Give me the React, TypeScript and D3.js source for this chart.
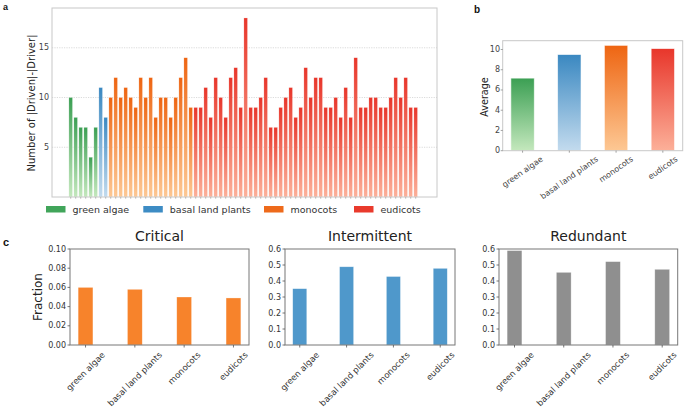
import React from "react";
import * as d3 from "d3";

// ---------- data ----------
const lineages = ["green algae", "basal land plants", "monocots", "eudicots"];
const groupSizes = [6, 2, 17, 45];
const driverDiff = [
  10, 8, 7, 7, 4, 7,
  11, 8,
  10, 12, 10, 11, 10, 9, 12, 10, 12, 8, 10, 10, 8, 10, 12, 14, 9,
  9, 9, 11, 8, 12, 10, 8, 12, 13, 9,
  18, 9, 9, 10, 12, 7, 7, 9, 10, 11,
  8, 9, 13, 10, 12, 12, 9, 9, 10, 8,
  11, 8, 14, 9, 9, 10, 10, 9, 9, 10,
  12, 10, 12, 9, 9,
];
const averages = [7.17, 9.5, 10.41, 10.09];
const criticalFrac = [0.06, 0.058, 0.05, 0.049];
const intermittentFrac = [0.352, 0.489, 0.428, 0.479];
const redundantFrac = [0.59, 0.454, 0.521, 0.473];
const aTicks = [5, 10, 15];
const bTicks = [0, 2, 4, 6, 8, 10];
const critTicks = [0, 0.02, 0.04, 0.06, 0.08, 0.1];
const fracTicks = [0, 0.1, 0.2, 0.3, 0.4, 0.5, 0.6];

const topColors = ["#3b9f53", "#3a88c1", "#ee6512", "#e8362b"];
const botColors = ["#c4e8bd", "#c3dbee", "#fdc894", "#fcb099"];
const legendColors = ["#41a55a", "#3d8cc4", "#ee6a1b", "#e93a2c"];

const FONT = '"DejaVu Sans", sans-serif';

let _ctx: CanvasRenderingContext2D | null = null;
function measure(text: string, size: number) {
  if (!_ctx) _ctx = document.createElement("canvas").getContext("2d");
  if (!_ctx) return text.length * size * 0.6;
  _ctx.font = `${size}px "DejaVu Sans"`;
  return _ctx.measureText(text).width;
}

function RotLabel({ x, yTop, text, size, angle, fill }: any) {
  const w = measure(text, size);
  const h = size * 1.1;
  const r = (angle * Math.PI) / 180;
  const bh = w * Math.sin(r) + h * Math.cos(r);
  const cy = yTop + bh / 2;
  return (
    <text
      transform={`translate(${x},${cy}) rotate(${-angle})`}
      textAnchor="middle"
      dominantBaseline="central"
      fontSize={size}
      fontFamily={FONT}
      fill={fill}
    >
      {text}
    </text>
  );
}

function FracPanel({ x0, x1, y0, y1, values, ticks, domainMax, title, color, fmt, showYLabel }: any) {
  const x = d3.scaleBand<string>().domain(lineages).range([x0, x1]).paddingInner(0.7).paddingOuter(0.165);
  const y = d3.scaleLinear().domain([0, domainMax]).range([y1, y0]);
  return (
    <g>
      <text x={(x0 + x1) / 2} y={y0 - 8} textAnchor="middle" fontSize={14} fontFamily={FONT} fill="#222">
        {title}
      </text>
      {values.map((v: number, i: number) => (
        <rect
          key={i}
          x={x(lineages[i])}
          y={y(v)}
          width={x.bandwidth()}
          height={y(0) - y(v)}
          fill={color}
          stroke="#ffffff"
          strokeOpacity={0.5}
          strokeWidth={0.6}
        />
      ))}
      <rect x={x0} y={y0} width={x1 - x0} height={y1 - y0} fill="none" stroke="#777" strokeWidth={1} />
      {ticks.map((t: number) => (
        <g key={t}>
          <line x1={x0 - 2.5} x2={x0} y1={y(t)} y2={y(t)} stroke="#555" strokeWidth={0.8} />
          <text x={x0 - 4} y={y(t)} textAnchor="end" dominantBaseline="central" fontSize={8} fontFamily={FONT} fill="#333">
            {fmt(t)}
          </text>
        </g>
      ))}
      {lineages.map((l) => {
        const cx = (x(l) as number) + x.bandwidth() / 2;
        return (
          <g key={l}>
            <line x1={cx} x2={cx} y1={y1} y2={y1 + 2.5} stroke="#555" strokeWidth={0.8} />
            <RotLabel x={cx} yTop={y1 + 5} text={l} size={8.5} angle={45} fill="#333" />
          </g>
        );
      })}
      {showYLabel && (
        <text
          transform={`translate(${x0 - 32},${(y0 + y1) / 2}) rotate(-90)`}
          textAnchor="middle"
          dominantBaseline="central"
          fontSize={12}
          fontFamily={FONT}
          fill="#222"
        >
          Fraction
        </text>
      )}
    </g>
  );
}

export default function App() {
  // lineage index for each bar of panel a
  const barGroup: number[] = [];
  groupSizes.forEach((n, g) => {
    for (let k = 0; k < n; k++) barGroup.push(g);
  });

  // panel a scales
  const aL = 52, aR = 437, aT = 8, aB = 197;
  const xa = d3
    .scaleBand<number>()
    .domain(driverDiff.map((_, i) => i))
    .range([aL, aR])
    .paddingInner(0.28)
    .paddingOuter(3.64)
    .align(0.464);
  const ya = d3.scaleLinear().domain([0, 19]).range([aB, aT]);

  // panel b scales
  const bL = 502.7, bR = 682.7, bT = 40.7, bB = 150.7;
  const xb = d3.scaleBand<string>().domain(lineages).range([bL, bR]).paddingInner(0.5).paddingOuter(0.175);
  const yb = d3.scaleLinear().domain([0, 10.87]).range([bB, bT]);

  const legendX = [46, 143.3, 264, 354];

  return (
    <svg width={685} height={412} style={{ position: "absolute", left: 0, top: 0, background: "#fff" }}>
      <defs>
        {lineages.map((_, g) => (
          <linearGradient key={g} id={`grad${g}`} x1="0" y1="0" x2="0" y2="1">
            <stop offset="0%" stopColor={topColors[g]} />
            <stop offset="100%" stopColor={botColors[g]} />
          </linearGradient>
        ))}
      </defs>
      <rect x={0} y={0} width={685} height={412} fill="#fff" />

      {/* panel letters */}
      <text x={3} y={10} fontSize={9} fontWeight="bold" fontFamily='"Liberation Sans", Arial, sans-serif' fill="#111">a</text>
      <text x={474} y={13} fontSize={10} fontWeight="bold" fontFamily='"Liberation Sans", Arial, sans-serif' fill="#111">b</text>
      <text x={3} y={246} fontSize={11} fontWeight="bold" fontFamily='"Liberation Sans", Arial, sans-serif' fill="#111">c</text>

      {/* ---------- panel a ---------- */}
      <g>
        {aTicks.map((t) => (
          <g key={t}>
            <line x1={aL} x2={aR} y1={ya(t)} y2={ya(t)} stroke="#d0d0d0" strokeWidth={0.8} strokeDasharray="1.2,1.2" />
            <text x={49} y={ya(t)} textAnchor="end" dominantBaseline="central" fontSize={8} fontFamily={FONT} fill="#444">
              {t}
            </text>
          </g>
        ))}
        {driverDiff.map((v, i) => (
          <rect
            key={i}
            x={xa(i)}
            y={ya(v)}
            width={xa.bandwidth()}
            height={ya(0) - ya(v)}
            fill={`url(#grad${barGroup[i]})`}
            stroke="#fff"
            strokeOpacity={0.6}
            strokeWidth={0.4}
          />
        ))}
        {driverDiff.map((_, i) => {
          const cx = (xa(i) as number) + xa.bandwidth() / 2;
          return <line key={i} x1={cx} x2={cx} y1={aB} y2={aB + 1.5} stroke="#666" strokeWidth={0.6} />;
        })}
        <rect x={aL} y={aT} width={aR - aL} height={aB - aT} fill="none" stroke="#c8c8c8" strokeWidth={1} />
        <text
          transform={`translate(31,103) rotate(-90)`}
          textAnchor="middle"
          dominantBaseline="central"
          fontSize={10}
          fontFamily={FONT}
          fill="#222"
        >
          Number of |Driven|-|Driver|
        </text>
        {lineages.map((l, g) => (
          <g key={l}>
            <rect x={legendX[g]} y={206} width={19.5} height={6.5} fill={legendColors[g]} />
            <text x={legendX[g] + 26.5} y={209.5} dominantBaseline="central" fontSize={9.5} fontFamily={FONT} fill="#333">
              {l}
            </text>
          </g>
        ))}
      </g>

      {/* ---------- panel b ---------- */}
      <g>
        {averages.map((v, i) => (
          <rect
            key={i}
            x={xb(lineages[i])}
            y={yb(v)}
            width={xb.bandwidth()}
            height={yb(0) - yb(v)}
            fill={`url(#grad${i})`}
            stroke="#fff"
            strokeOpacity={0.7}
            strokeWidth={0.8}
          />
        ))}
        <rect x={bL} y={bT} width={bR - bL} height={bB - bT} fill="none" stroke="#c8c8c8" strokeWidth={1} />
        {bTicks.map((t) => (
          <g key={t}>
            <line x1={bL - 2} x2={bL} y1={yb(t)} y2={yb(t)} stroke="#666" strokeWidth={0.6} />
            <text x={500} y={yb(t)} textAnchor="end" dominantBaseline="central" fontSize={8} fontFamily={FONT} fill="#444">
              {t}
            </text>
          </g>
        ))}
        {lineages.map((l) => {
          const cx = (xb(l) as number) + xb.bandwidth() / 2;
          return (
            <g key={l}>
              <line x1={cx} x2={cx} y1={bB} y2={bB + 2} stroke="#666" strokeWidth={0.6} />
              <RotLabel x={cx} yTop={bB + 4} text={l} size={8} angle={35} fill="#444" />
            </g>
          );
        })}
        <text
          transform={`translate(484,97) rotate(-90)`}
          textAnchor="middle"
          dominantBaseline="central"
          fontSize={9.6}
          fontFamily={FONT}
          fill="#222"
        >
          Average
        </text>
      </g>

      {/* ---------- panel c ---------- */}
      <FracPanel
        x0={70} x1={249} y0={249} y1={345}
        values={criticalFrac} ticks={critTicks} domainMax={0.1}
        title="Critical" color="#f7832b" fmt={(t: number) => t.toFixed(2)} showYLabel
      />
      <FracPanel
        x0={285} x1={455} y0={249} y1={345}
        values={intermittentFrac} ticks={fracTicks} domainMax={0.6}
        title="Intermittent" color="#4f98cb" fmt={(t: number) => t.toFixed(1)}
      />
      <FracPanel
        x0={499} x1={677.7} y0={249} y1={345}
        values={redundantFrac} ticks={fracTicks} domainMax={0.6}
        title="Redundant" color="#8f8f8f" fmt={(t: number) => t.toFixed(1)}
      />
    </svg>
  );
}
